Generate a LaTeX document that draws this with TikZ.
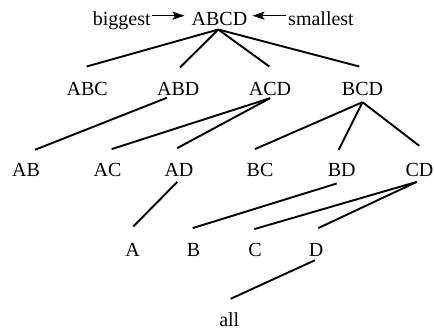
\documentclass[tikz,border=0pt]{standalone}
\usepackage{fontspec}
\setmainfont{Liberation Serif}
\usetikzlibrary{arrows.meta}
\tikzset{
  lbl/.style={inner sep=0pt, text height=13pt, text depth=0pt, font=\fontsize{20}{24}\selectfont},
  edge/.style={line width=1.9pt},
  pointer/.style={line width=1.4pt, -{Stealth[length=12pt,width=8pt,inset=2.5pt]}}
}
\begin{document}
\begin{tikzpicture}[x=1pt,y=1pt]
\useasboundingbox (0,0) rectangle (434,333);
% level 0
\node[lbl] (big) at (121.7,314.5) {biggest};
\node[lbl] (ABCD) at (219.5,314.5) {ABCD};
\node[lbl] (small) at (321,314.5) {smallest};
% level 1
\node[lbl] (ABC) at (87.2,244.5) {ABC};
\node[lbl] (ABD) at (178.3,244.5) {ABD};
\node[lbl] (ACD) at (270,244.5) {ACD};
\node[lbl] (BCD) at (362.5,244.5) {BCD};
% level 2
\node[lbl] (AB) at (26,163.5) {AB};
\node[lbl] (AC) at (107.5,163.5) {AC};
\node[lbl] (AD) at (179,163.5) {AD};
\node[lbl] (BC) at (260,163.5) {BC};
\node[lbl] (BD) at (341.7,163.5) {BD};
\node[lbl] (CD) at (419.5,163.5) {CD};
% level 3
\node[lbl] (A) at (132.7,82.8) {A};
\node[lbl] (B) at (193.5,82.8) {B};
\node[lbl] (C) at (255,82.8) {C};
\node[lbl] (D) at (316,82.8) {D};
% bottom
\node[lbl] (all) at (229.3,12.8) {all};
% pointers
\draw[pointer, shorten <=1pt, shorten >=7pt] ([yshift=2.8pt]big.east) -- ([yshift=2.8pt]ABCD.west);
\draw[pointer, shorten <=2pt, shorten >=5pt] ([yshift=2.8pt]small.west) -- ([yshift=2.8pt]ABCD.east);
% edges level 0 -> 1
\draw[edge] ([xshift=-1.2pt,yshift=-4.3pt]ABCD.south) -- ([xshift=-0.5pt,yshift=15.3pt]ABC.north);
\draw[edge] ([xshift=-1.2pt,yshift=-4.3pt]ABCD.south) -- ([xshift=1.7pt,yshift=14.3pt]ABD.north);
\draw[edge] ([xshift=-1.2pt,yshift=-4.3pt]ABCD.south) -- ([xshift=-0.7pt,yshift=15.3pt]ACD.north);
\draw[edge] ([xshift=-1.2pt,yshift=-4.3pt]ABCD.south) -- ([xshift=-3.2pt,yshift=15.3pt]BCD.north);
% edges level 1 -> 2
\draw[edge] ([xshift=-11.3pt,yshift=-2.5pt]ABD.south) -- ([xshift=9pt,yshift=13pt]AB.north);
\draw[edge] ([xshift=0pt,yshift=-3pt]ACD.south) -- ([xshift=4.2pt,yshift=13.7pt]AC.north);
\draw[edge] ([xshift=0pt,yshift=-3pt]ACD.south) -- ([xshift=-1.7pt,yshift=14.7pt]AD.north);
\draw[edge] ([xshift=0pt,yshift=-7pt]BCD.south) -- ([xshift=-5pt,yshift=13.7pt]BC.north);
\draw[edge] ([xshift=0pt,yshift=-7pt]BCD.south) -- ([xshift=-3pt,yshift=13pt]BD.north);
\draw[edge] ([xshift=0pt,yshift=-7pt]BCD.south) -- ([xshift=-0.2pt,yshift=17pt]CD.north);
% edges level 2 -> 3
\draw[edge] ([xshift=-1.7pt,yshift=-5.7pt]AD.south) -- ([xshift=0.6pt,yshift=17pt]A.north);
\draw[edge] ([xshift=-5pt,yshift=-7.3pt]BD.south) -- ([xshift=-0.8pt,yshift=15.4pt]B.north);
\draw[edge] ([xshift=-2.8pt,yshift=-5.7pt]CD.south) -- ([xshift=-0.7pt,yshift=14.4pt]C.north);
\draw[edge] ([xshift=-2.8pt,yshift=-5.7pt]CD.south) -- ([xshift=2.3pt,yshift=15.4pt]D.north);
% edge level 3 -> bottom
\draw[edge] ([xshift=-1pt,yshift=-3.3pt]D.south) -- ([xshift=1.4pt,yshift=14.7pt]all.north);
\end{tikzpicture}
\end{document}
